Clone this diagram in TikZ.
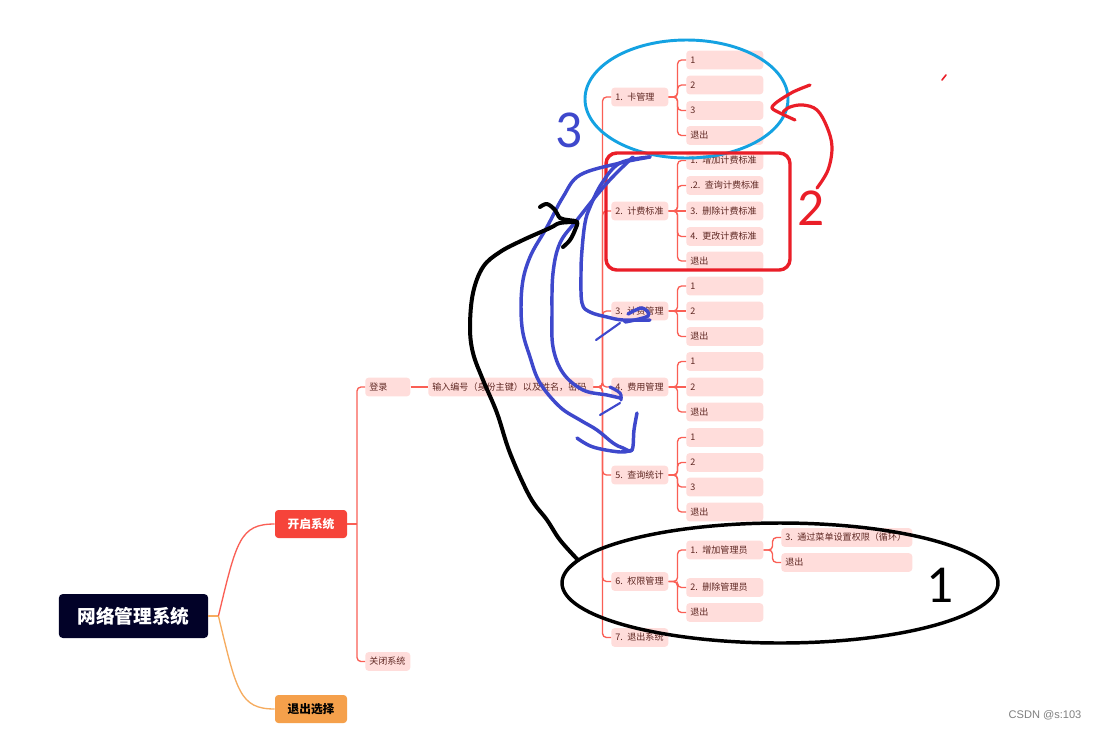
\documentclass[tikz,border=0pt]{standalone}
\usepackage{fontspec}
\newfontfamily\cjk{Noto Sans CJK SC}
\newfontfamily\numfont{Carlito}
\setsansfont{Liberation Sans}
\usepackage{tikz}
\usetikzlibrary{positioning}

\definecolor{rootnavy}{RGB}{2,2,40}
\definecolor{openred}{RGB}{246,68,58}
\definecolor{quitorange}{RGB}{245,160,75}
\definecolor{leaffill}{RGB}{255,221,219}
\definecolor{leaftext}{RGB}{95,40,35}
\definecolor{linkred}{RGB}{250,95,85}
\definecolor{linkorange}{RGB}{246,172,95}
\definecolor{pencyan}{RGB}{20,162,226}
\definecolor{penred}{RGB}{234,30,40}
\definecolor{penblue}{RGB}{62,72,204}

\tikzset{
mapbox/.style={rounded corners=2.5pt, inner xsep=3pt, inner ysep=0pt, minimum height=14pt,
  align=left, fill=leaffill, text=leaftext, anchor=west, font=\cjk\fontsize{6.8}{8}\selectfont},
secbox/.style={mapbox, text width=36.75pt},
optbox/.style={mapbox, text width=51.75pt},
widebox/.style={mapbox, text width=92.25pt},
rootbox/.style={rounded corners=3pt, fill=rootnavy, text=white, minimum width=112pt, minimum height=33pt,
  inner sep=0pt, font=\cjk\bfseries\fontsize{14}{16}\selectfont},
mainbox/.style={rounded corners=2.5pt, minimum width=54pt, minimum height=21pt, inner sep=0pt,
  font=\cjk\bfseries\fontsize{8.8}{10}\selectfont},
link/.style={draw=linkred, line width=1pt, rounded corners=3pt},
pen/.style={line width=#1, line cap=round, line join=round},
digit/.style={inner sep=0pt, font=\numfont\fontsize{40}{40}\selectfont}
}

\begin{document}
\begin{tikzpicture}[x=0.75pt,y=0.75pt,yscale=-1,xscale=1]
\fill [white] (0,0) rectangle (1096,729);
\useasboundingbox (0,0) rectangle (1096,729);

% Text Node
\node [rootbox] (root) at (133.5,616) {网络管理系统};
% Text Node
\node [mainbox, fill=openred, text=white] (open) at (311,524) {开启系统};
% Text Node
\node [mainbox, fill=quitorange, text=black] (quit) at (311,709) {退出选择};
% Text Node
\node [mapbox, text width=27.75pt] (login) at (365,387) {登录};
% Text Node
\node [mapbox, text width=27.75pt] (closesys) at (365,661.5) {关闭系统};
% Text Node
\node [mapbox, text width=117.75pt] (input) at (428,387) {\mbox{输入编号（身份主键）以及姓名，密码}};

% Text Node
\node [secbox] (card) at (611,97) {1. 卡管理};
\node [secbox] (rate) at (611,211) {\mbox{2. 计费标准}};
\node [secbox] (bill) at (611,311) {\mbox{3. 计费管理}};
\node [secbox] (fee) at (611,387) {\mbox{4. 费用管理}};
\node [secbox] (stat) at (611,475) {\mbox{5. 查询统计}};
\node [secbox] (perm) at (611,581.5) {\mbox{6. 权限管理}};
\node [secbox] (leave) at (611,637.5) {\mbox{7. 退出系统}};

% Text Node
\node [optbox] (card1) at (686,60) {1};
\node [optbox] (card2) at (686,85) {2};
\node [optbox] (card3) at (686,110.5) {3};
\node [optbox] (card4) at (686,135.5) {退出};
% Text Node
\node [optbox] (rate1) at (686,160.5) {\mbox{1. 增加计费标准}};
\node [optbox] (rate2) at (686,185.5) {\mbox{.2. 查询计费标准}};
\node [optbox] (rate3) at (686,211) {\mbox{3. 删除计费标准}};
\node [optbox] (rate4) at (686,236.5) {\mbox{4. 更改计费标准}};
\node [optbox] (rate5) at (686,261) {退出};
% Text Node
\node [optbox] (bill1) at (686,286) {1};
\node [optbox] (bill2) at (686,311) {2};
\node [optbox] (bill3) at (686,336.5) {退出};
% Text Node
\node [optbox] (fee1) at (686,361.5) {1};
\node [optbox] (fee2) at (686,387) {2};
\node [optbox] (fee3) at (686,412) {退出};
% Text Node
\node [optbox] (stat1) at (686,437.5) {1};
\node [optbox] (stat2) at (686,462.5) {2};
\node [optbox] (stat3) at (686,487) {3};
\node [optbox] (stat4) at (686,512) {退出};
% Text Node
\node [optbox] (perm1) at (686,550) {\mbox{1. 增加管理员}};
\node [optbox] (perm2) at (686,587.5) {\mbox{2. 删除管理员}};
\node [optbox] (perm3) at (686,612.5) {退出};
% Text Node
\node [widebox] (adm1) at (781,537.5) {\mbox{3. 通过菜单设置权限（循环）}};
\node [widebox] (adm2) at (781,562.5) {退出};

%Curve Lines
\draw [draw=linkorange, line width=1pt] (root.east) -- ++(10,0) coordinate (fork);
\draw [draw=linkred, line width=1pt] (fork) .. controls +(18,-75) and +(-35,0) .. (open.west);
\draw [draw=linkorange, line width=1pt] (fork) .. controls +(18,75) and +(-35,0) .. (quit.west);
%Straight Lines
\draw [link] (open.east) -- ++(10,0);
\draw [link] (login.west) -- ++(-8,0) |- (closesys.west);
\draw [link] (login.east) -- (input.west);
%Straight Lines
\draw [link] (input.east) -- ++(9,0) |- (card.west);
\draw [link] (input.east) -- ++(9,0) |- (rate.west);
\draw [link] (input.east) -- ++(9,0) |- (bill.west);
\draw [link] (input.east) -- ++(9,0) |- (fee.west);
\draw [link] (input.east) -- ++(9,0) |- (stat.west);
\draw [link] (input.east) -- ++(9,0) |- (perm.west);
\draw [link] (input.east) -- ++(9,0) |- (leave.west);
%Straight Lines
\draw [link] (card.east) -- ++(9,0) |- (card1.west);
\draw [link] (card.east) -- ++(9,0) |- (card2.west);
\draw [link] (card.east) -- ++(9,0) |- (card3.west);
\draw [link] (card.east) -- ++(9,0) |- (card4.west);
\draw [link] (rate.east) -- ++(9,0) |- (rate1.west);
\draw [link] (rate.east) -- ++(9,0) |- (rate2.west);
\draw [link] (rate.east) -- (rate3.west);
\draw [link] (rate.east) -- ++(9,0) |- (rate4.west);
\draw [link] (rate.east) -- ++(9,0) |- (rate5.west);
\draw [link] (bill.east) -- ++(9,0) |- (bill1.west);
\draw [link] (bill.east) -- (bill2.west);
\draw [link] (bill.east) -- ++(9,0) |- (bill3.west);
\draw [link] (fee.east) -- ++(9,0) |- (fee1.west);
\draw [link] (fee.east) -- (fee2.west);
\draw [link] (fee.east) -- ++(9,0) |- (fee3.west);
\draw [link] (stat.east) -- ++(9,0) |- (stat1.west);
\draw [link] (stat.east) -- ++(9,0) |- (stat2.west);
\draw [link] (stat.east) -- ++(9,0) |- (stat3.west);
\draw [link] (stat.east) -- ++(9,0) |- (stat4.west);
\draw [link] (perm.east) -- ++(9,0) |- (perm1.west);
\draw [link] (perm.east) -- ++(9,0) |- (perm2.west);
\draw [link] (perm.east) -- ++(9,0) |- (perm3.west);
\draw [link] (perm1.east) -- ++(9,0) |- (adm1.west);
\draw [link] (perm1.east) -- ++(9,0) |- (adm2.west);

%Shape: Ellipse
\draw [pen=2.2pt, pencyan] (686.5,99) ellipse [x radius=101.5, y radius=59];
%Shape: Rectangle
\draw [pen=2.6pt, penred, rounded corners=8pt] (606,153) rectangle (790,270);
%Shape: Ellipse
\draw [pen=2.6pt, black] (780,583) ellipse [x radius=218, y radius=60];

%Curve Lines
\draw [pen=2.4pt, penred] plot [smooth, tension=0.6] coordinates {(817,188) (828,170) (832,147) (827,127) (817,110) (803,105) (790,107) (783,112)};
\draw [pen=2.4pt, penred] plot [smooth, tension=0.5] coordinates {(810,85) (793,92) (777,102) (772,108) (780,113) (795,120)};
\draw [pen=1.2pt, penred] (942,80) -- (946,75);

%Curve Lines
\draw [pen=2.6pt, penblue] plot [smooth, tension=0.6] coordinates {(650,157) (620,163) (602,183) (590,207) (585,223) (582,250) (581,273) (582,303) (590,312) (607,317) (623,320) (650,320)};
\draw [pen=2.6pt, penblue] plot [smooth, tension=0.6] coordinates {(628,314) (642,308) (648,316) (625,322)};
\draw [pen=1.6pt, penblue] (620,323) -- (596,340);
\draw [pen=2.6pt, penblue] plot [smooth, tension=0.6] coordinates {(633,157) (607,183) (577,220) (560,243) (553,273) (552,313) (553,347) (563,373) (583,390) (607,395) (620,398)};
\draw [pen=2.4pt, penblue] plot [smooth, tension=0.6] coordinates {(610,387) (620,393) (621,400)};
\draw [pen=1.6pt, penblue] (620,403) -- (600,415);
\draw [pen=2.6pt, penblue] plot [smooth, tension=0.6] coordinates {(650,157) (620,163) (580,175) (563,197) (547,227) (530,257) (522,287) (522,327) (530,357) (540,383) (560,407) (580,420) (597,430) (613,443) (623,448) (632,450) (634,430) (637,413)};
\draw [pen=2.6pt, penblue] plot [smooth, tension=0.6] coordinates {(577,438) (593,447) (620,452) (632,450)};

%Curve Lines
\draw [pen=3pt, black] plot [smooth, tension=0.6] coordinates {(540,207) (547,204) (555,210) (560,218) (568,220) (577,222) (575,230) (570,240) (563,247)};
\draw [pen=3pt, black] plot [smooth, tension=0.6] coordinates {(577,222) (560,223) (550,228) (523,240) (500,252) (483,267) (473,293) (470,327) (473,353) (483,380) (497,413) (510,453) (530,497) (547,520) (560,540) (578,560)};
\draw [pen=2.4pt, black] (578,560) -- (570,567);

% Text Node
\node [digit, text=penblue] (three) at (569,130) {3};
\node [digit, text=penred] (two) at (811,208) {2};
\node [digit, text=black] (one) at (940,585) {1};
% Text Node
\node [inner sep=0pt, text=gray, font=\sffamily\fontsize{8.3}{10}\selectfont] (mark) at (1045,715) {CSDN @s:103};
\end{tikzpicture}
\end{document}
